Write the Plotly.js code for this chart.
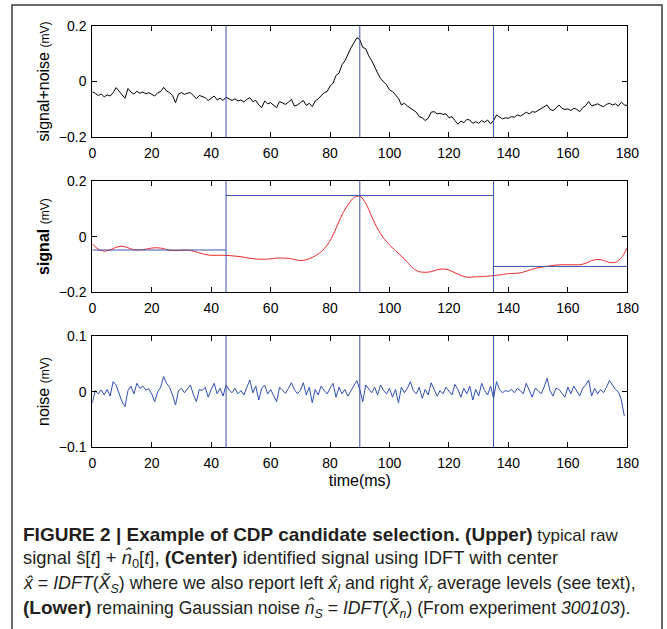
<!DOCTYPE html>
<html>
<head>
<meta charset="utf-8">
<script src="https://cdn.plot.ly/plotly-3.0.1.min.js"></script>
<style>html,body{margin:0;padding:0;background:#fff;}#chart{width:667px;height:629px;}</style>
</head>
<body>
<div id="chart"></div>
<script>
// ---- data ----
const xTicks = [0, 20, 40, 60, 80, 100, 120, 140, 160, 180];
const yTicksSignal = [-0.2, 0, 0.2];
const yTickTextSignal = ['\u22120.2', '0', '0.2'];
const yTicksNoise = [-0.1, 0, 0.1];
const yTickTextNoise = ['\u22120.1', '0', '0.1'];

// boundaries of the candidate window (ms)
const markers = [45, 90, 135];
// average levels: left, center, right
const levelStarts = [0, 45, 135];
const levelEnds = [45, 135, 180];
const levelValues = [-0.048, 0.148, -0.107];

// upper: raw signal + noise, 1 ms sampling from t = 0
const rawSignal = [
 -0.037,-0.042,-0.050,-0.045,-0.055,-0.048,-0.052,-0.040,-0.022,-0.035,
 -0.048,-0.060,-0.025,-0.038,-0.045,-0.035,-0.042,-0.038,-0.044,-0.040,
 -0.046,-0.052,-0.040,-0.036,-0.021,-0.034,-0.040,-0.050,-0.076,-0.045,
 -0.040,-0.046,-0.042,-0.040,-0.050,-0.062,-0.050,-0.054,-0.058,-0.068,
 -0.060,-0.052,-0.066,-0.060,-0.068,-0.056,-0.062,-0.068,-0.062,-0.070,
 -0.066,-0.074,-0.064,-0.058,-0.072,-0.068,-0.084,-0.094,-0.070,-0.080,
 -0.076,-0.086,-0.094,-0.072,-0.078,-0.082,-0.074,-0.064,-0.088,-0.084,
 -0.076,-0.068,-0.086,-0.078,-0.090,-0.070,-0.062,-0.050,-0.040,-0.036,
 -0.016,-0.006, 0.022, 0.030, 0.060, 0.074, 0.100, 0.120, 0.138, 0.157,
  0.150, 0.122, 0.118, 0.092, 0.075, 0.050, 0.030, 0.010,-0.002,-0.012,
 -0.030,-0.036,-0.048,-0.060,-0.084,-0.078,-0.088,-0.096,-0.105,-0.110,
 -0.126,-0.130,-0.140,-0.132,-0.110,-0.108,-0.116,-0.114,-0.118,-0.116,
 -0.130,-0.126,-0.140,-0.153,-0.142,-0.148,-0.136,-0.138,-0.150,-0.144,
 -0.150,-0.140,-0.146,-0.138,-0.152,-0.140,-0.120,-0.128,-0.134,-0.130,
 -0.132,-0.126,-0.128,-0.120,-0.124,-0.118,-0.110,-0.116,-0.108,-0.110,
 -0.104,-0.098,-0.092,-0.084,-0.100,-0.104,-0.096,-0.084,-0.096,-0.100,
 -0.098,-0.104,-0.096,-0.100,-0.108,-0.094,-0.086,-0.072,-0.088,-0.084,
 -0.080,-0.086,-0.090,-0.082,-0.078,-0.084,-0.080,-0.088,-0.074,-0.084,
 -0.086
];

// center: identified signal, 2 ms sampling from t = 0
const identifiedSignal = [
 -0.026,-0.045,-0.052,-0.048,-0.038,-0.034,-0.040,-0.047,-0.048,-0.045,
 -0.041,-0.040,-0.043,-0.049,-0.050,-0.049,-0.048,-0.052,-0.058,-0.064,
 -0.067,-0.067,-0.067,-0.068,-0.070,-0.072,-0.076,-0.079,-0.081,-0.081,
 -0.080,-0.077,-0.077,-0.078,-0.082,-0.086,-0.083,-0.075,-0.062,-0.044,
 -0.015, 0.030, 0.078, 0.114, 0.140, 0.146, 0.120, 0.072, 0.028,-0.005,
 -0.030,-0.050,-0.070,-0.092,-0.114,-0.126,-0.128,-0.126,-0.119,-0.116,
 -0.120,-0.130,-0.139,-0.146,-0.145,-0.144,-0.143,-0.141,-0.139,-0.136,
 -0.133,-0.132,-0.130,-0.124,-0.117,-0.112,-0.108,-0.105,-0.102,-0.101,
 -0.101,-0.101,-0.101,-0.096,-0.086,-0.082,-0.085,-0.093,-0.092,-0.076,
 -0.040
];

// lower: remaining noise, 1 ms sampling from t = 0
const remainingNoise = [
 -0.020, 0.002,-0.004, 0.003,-0.006, 0.004,-0.008, 0.018, 0.012,-0.005,
 -0.018,-0.027, 0.002, 0.010,-0.004, 0.015, 0.006, 0.010, 0.003, 0.005,
 -0.004,-0.018, 0.000, 0.008, 0.027, 0.015, 0.008,-0.006,-0.024, 0.002,
  0.006,-0.002, 0.004, 0.012,-0.005,-0.018, 0.004, 0.002, 0.008,-0.010,
  0.004, 0.015,-0.004, 0.006,-0.008, 0.012, 0.003,-0.002, 0.006,-0.004,
  0.002,-0.006, 0.008, 0.021,-0.002, 0.010,-0.015, 0.006, 0.012,-0.004,
  0.004,-0.008,-0.018, 0.008, 0.002,-0.003, 0.006, 0.016, 0.004,-0.004,
  0.002, 0.016,-0.006, 0.008,-0.020, 0.004,-0.006, 0.010, 0.002,-0.004,
  0.006, 0.015,-0.010, 0.008,-0.004, 0.004,-0.008, 0.002, 0.010, 0.020,
  0.004,-0.018, 0.012, 0.006,-0.002, 0.008,-0.006, 0.012, 0.002,-0.004,
  0.006,-0.010, 0.004,-0.020, 0.008,-0.002, 0.006, 0.018, 0.002,-0.004,
  0.008,-0.012, 0.004,-0.006, 0.016, 0.004,-0.008, 0.002,-0.004, 0.008,
  0.000,-0.006, 0.013, 0.004,-0.010, 0.006,-0.004, 0.010,-0.015, 0.004,
 -0.008, 0.015, 0.002,-0.006, 0.010,-0.012, 0.018, 0.004,-0.002, 0.002,
  0.000, 0.004,-0.002, 0.006, 0.002,-0.004, 0.015, 0.004,-0.010, 0.006,
  0.002,-0.004, 0.008, 0.024, 0.002,-0.008, 0.006, 0.004,-0.004,-0.010,
  0.008,-0.004, 0.010, 0.002,-0.008, 0.006, 0.012, 0.021,-0.008, 0.006,
 -0.004, 0.004,-0.002, 0.008, 0.020, 0.012, 0.004, 0.000,-0.015,-0.044
];

const yTitles = [
  'signal+noise <span style="font-size:12px">(mV)</span>',
  '<b>signal</b> <span style="font-size:12px">(mV)</span>',
  'noise <span style="font-size:12px">(mV)</span>'
];
const xTitle = 'time(ms)';
const captionLines = [
  '<b>FIGURE 2 | Example of CDP candidate selection. (Upper)</b> typical raw',
  'signal \u015D[<i>t</i>] + <i>n\u0302</i><sub>0</sub>[<i>t</i>], <b>(Center)</b> identified signal using IDFT with center',
  '<i>x\u0302</i> = <i>IDFT</i>(<i>X\u0303</i><sub><i>S</i></sub>) where we also report left <i>x\u0302</i><sub><i>l</i></sub> and right <i>x\u0302</i><sub><i>r</i></sub> average levels (see text),',
  '<b>(Lower)</b> remaining Gaussian noise <i>n\u0302</i><sub><i>S</i></sub> = <i>IDFT</i>(<i>X\u0303</i><sub><i>n</i></sub>) (From experiment <i>300103</i>).'
];

// ---- layout geometry ----
const W = 667, H = 629;
const FONT = 'Liberation Sans, Arial, Helvetica, sans-serif';
const plotLeft = 92.3, plotRight = 627.3;
const panelTops = [25.7, 181, 336];
const panelBottoms = [137.3, 292.3, 447.3];
const captionY = [534, 559, 584, 609];
const captionSize = [17, 18.4, 17.8, 17.6];
const captionBoldSize = 19;
const lineBlue = '#3c52aa';

function xAxis(anchor, showTitle) {
  const a = {
    domain: [plotLeft / W, plotRight / W], anchor: anchor,
    range: [0, 180], tickmode: 'array', tickvals: xTicks, ticktext: xTicks.map(String),
    showline: true, linecolor: '#000', linewidth: 1, mirror: 'allticks',
    ticks: 'inside', ticklen: 5, tickcolor: '#000', tickwidth: 1,
    showgrid: false, zeroline: false, fixedrange: true,
    tickfont: {family: FONT, size: 14, color: '#000'}, ticklabelstandoff: 3
  };
  if (showTitle) a.title = {text: xTitle, font: {family: FONT, size: 16, color: '#000'}, standoff: 4};
  return a;
}
function yAxis(i, anchor, vals, txt, rng) {
  return {
    domain: [1 - panelBottoms[i] / H, 1 - panelTops[i] / H], anchor: anchor,
    range: rng, tickmode: 'array', tickvals: vals, ticktext: txt,
    showline: true, linecolor: '#000', linewidth: 1, mirror: 'allticks',
    ticks: 'inside', ticklen: 5, tickcolor: '#000', tickwidth: 1,
    showgrid: false, zeroline: false, fixedrange: true,
    tickfont: {family: FONT, size: 14, color: '#000'}, ticklabelstandoff: 2,
    title: {text: yTitles[i], font: {family: FONT, size: 16, color: '#000'}, standoff: 5}
  };
}

const traces = [
  {x0: 0, dx: 1, y: rawSignal, xaxis: 'x', yaxis: 'y', mode: 'lines',
   line: {color: '#000000', width: 1}, hoverinfo: 'skip'},
  {x0: 0, dx: 2, y: identifiedSignal, xaxis: 'x2', yaxis: 'y2', mode: 'lines',
   line: {color: '#f02828', width: 1, shape: 'spline', smoothing: 0.8}, hoverinfo: 'skip'},
  {x0: 0, dx: 1, y: remainingNoise, xaxis: 'x3', yaxis: 'y3', mode: 'lines',
   line: {color: '#2f4fae', width: 1}, hoverinfo: 'skip'}
];

const shapes = [];
['', '2', '3'].forEach(s => {
  markers.forEach(m => shapes.push({type: 'line', xref: 'x' + s, yref: 'y' + s + ' domain',
    x0: m, x1: m, y0: 0, y1: 1, line: {color: lineBlue, width: 1}}));
});
levelValues.forEach((v, i) => shapes.push({type: 'line', xref: 'x2', yref: 'y2',
  x0: levelStarts[i], x1: levelEnds[i], y0: v, y1: v, line: {color: lineBlue, width: 1}}));
// figure frame
shapes.push({type: 'rect', xref: 'paper', yref: 'paper', x0: 12 / W, x1: 662 / W,
  y0: -0.05, y1: 1 - 5 / H, line: {color: '#3a3a3a', width: 1.5}, layer: 'below'});

const annotations = captionLines.map((t, i) => ({
  xref: 'paper', yref: 'paper', x: 21 / W, y: 1 - captionY[i] / H,
  xanchor: 'left', yanchor: 'middle', align: 'left', showarrow: false,
  text: t.split('<b>').join('<b><span style="font-size:' + captionBoldSize + 'px">')
         .split('</b>').join('</span></b>'),
  font: {family: FONT, size: captionSize[i], color: '#231f20'}
}));

const layout = {
  width: W, height: H, margin: {l: 0, r: 0, t: 0, b: 0},
  paper_bgcolor: '#fff', plot_bgcolor: '#fff', showlegend: false,
  xaxis: xAxis('y', false), yaxis: yAxis(0, 'x', yTicksSignal, yTickTextSignal, [-0.2, 0.2]),
  xaxis2: xAxis('y2', false), yaxis2: yAxis(1, 'x2', yTicksSignal, yTickTextSignal, [-0.2, 0.2]),
  xaxis3: xAxis('y3', true), yaxis3: yAxis(2, 'x3', yTicksNoise, yTickTextNoise, [-0.1, 0.1]),
  shapes: shapes, annotations: annotations
};

Plotly.newPlot('chart', traces, layout, {staticPlot: true, displayModeBar: false});
</script>
</body>
</html>
